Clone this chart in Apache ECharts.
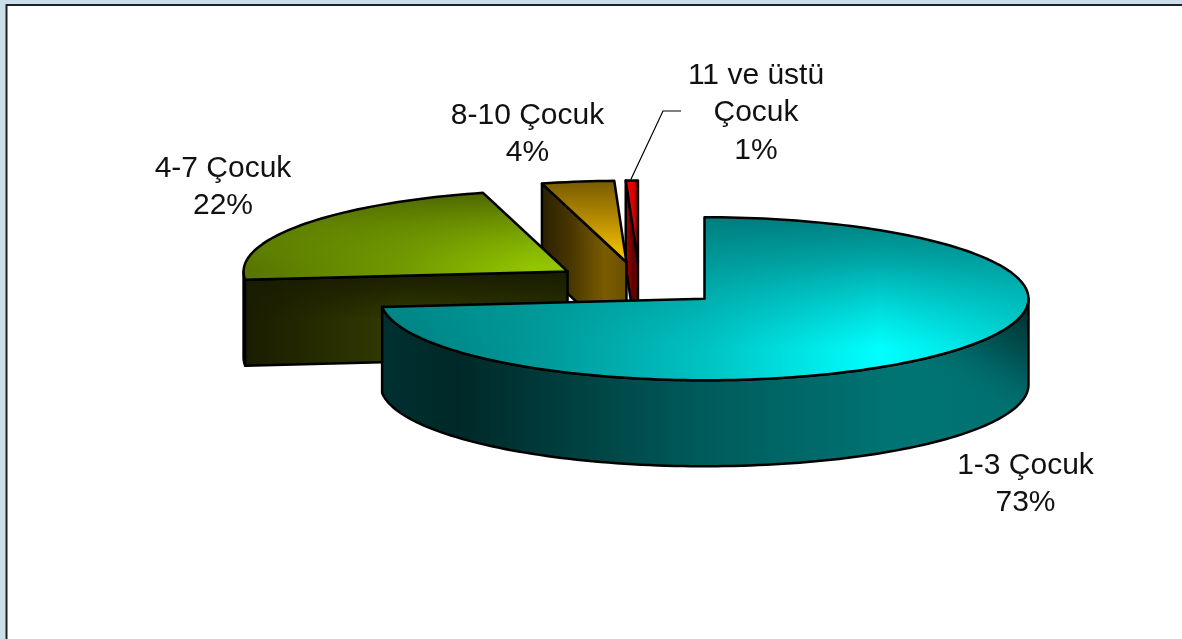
<!DOCTYPE html>
<html>
<head>
<meta charset="utf-8">
<style>html,body{margin:0;padding:0;background:#fff}#chart{width:1182px;height:639px}</style>
<script src="https://cdn.jsdelivr.net/npm/echarts@6/dist/echarts.min.js"></script>
</head>
<body>
<div id="chart"></div>
<script>
// ---- data ----
const categories = ['1-3 Çocuk', '4-7 Çocuk', '8-10 Çocuk', '11 ve üstü\nÇocuk'];
const shares = [73.4, 22.4, 3.6, 0.6];

// ---- pie geometry (a squashed, exploded 3D pie) ----
const PIE = {cx: 639.6, cy: 284, rx: 324, ry: 81.5, depth: 86, explode: 0.27};
const labelAnchors = [[1025.5, 484], [223, 187], [527.5, 134], [756, 113]];
const FONT = 'Liberation Sans';

const G = echarts.graphic.LinearGradient;
const hGrad = (x0, x1, stops) => new G(x0, 0, x1, 0, stops.map(c => ({offset: c[0], color: c[1]})), true);
const vGrad = (y0, y1, stops) => new G(0, y0, 0, y1, stops.map(c => ({offset: c[0], color: c[1]})), true);

// one paint stack (base + overlays) for each face of each slice
const sliceStyles = [
  {
    top: [hGrad(381, 1029, [[0, '#007c7c'], [0.25, '#009a9a'], [0.5, '#00c2c2'], [0.77, '#00ffff'], [1, '#00d2d2']]),
          vGrad(217, 348, [[0, 'rgba(0,124,124,1)'], [0.35, 'rgba(0,140,140,0.75)'], [1, 'rgba(0,160,160,0)']])],
    wall: [hGrad(381, 1029, [[0, '#003030'], [0.12, '#002828'], [0.5, '#005c5c'], [0.8, '#007474'], [1, '#007070']]),
           new G(1032, 300, 975, 395, [{offset: 0, color: 'rgba(0,36,36,1)'}, {offset: 0.55, color: 'rgba(0,60,60,0.5)'}, {offset: 1, color: 'rgba(0,100,100,0)'}], true)],
    cut: ['#003434']
  },
  {
    top: [hGrad(243, 567, [[0, '#567400'], [0.5, '#729a00'], [0.9, '#94c600'], [1, '#94c600']]),
          vGrad(193, 268, [[0, 'rgba(76,100,0,1)'], [0.45, 'rgba(96,128,0,0.6)'], [1, 'rgba(110,150,0,0)']])],
    wall: ['#1a1d00'],
    cut: [hGrad(243, 567, [[0, '#1a1c00'], [0.5, '#343c00'], [1, '#2c3200']]),
          vGrad(272, 320, [[0, 'rgba(24,28,0,1)'], [1, 'rgba(24,28,0,0)']])]
  },
  {
    top: [vGrad(182, 262, [[0, '#7a5c00'], [0.5, '#bb8f00'], [1, '#ffcc00']])],
    wall: ['#2a2000'],
    cut: [hGrad(542, 626, [[0, '#2a2000'], [0.35, '#493700'], [0.75, '#7a5c00'], [1, '#6a5000']])]
  },
  {
    top: [hGrad(627, 639, [[0, '#ff0000'], [0.6, '#d00000'], [1, '#700000']])],
    wall: ['#500000'],
    cut: [hGrad(627, 639, [[0, '#a00000'], [0.5, '#5c0000'], [1, '#7a0000']])]
  }
];

// ---- cumulative angles from the values ----
const total = shares.reduce((a, b) => a + b, 0);
let running = 0;
const spans = shares.map(v => {
  const s = running / total * 360;
  running += v;
  return [s, running / total * 360];
});
const rad = d => d * Math.PI / 180;

function renderSlice(params, api) {
  const i = params.dataIndex;
  const [t0, t1] = spans[i];
  const mid = rad((t0 + t1) / 2);
  const cx = PIE.cx + PIE.explode * PIE.rx * Math.sin(mid);
  const cy = PIE.cy - PIE.explode * PIE.ry * Math.cos(mid);
  const rim = (t, dz) => [cx + PIE.rx * Math.sin(rad(t)), cy - PIE.ry * Math.cos(rad(t)) + (dz || 0)];
  const arc = (a, b, dz) => {
    const n = Math.max(2, Math.ceil(Math.abs(b - a) / 1.5));
    const pts = [];
    for (let k = 0; k <= n; k++) pts.push(rim(a + (b - a) * k / n, dz));
    return pts;
  };
  const base = (3 - i) * 20 + 1; // slices nearer the viewer paint later
  let z = base;
  const children = [];
  const face = (points, fills) => {
    fills.forEach(f => children.push({type: 'polygon', shape: {points}, style: {fill: f, stroke: null}, z2: z++}));
    children.push({type: 'polygon', shape: {points}, style: {fill: 'none', stroke: '#000', lineWidth: 2.5, lineJoin: 'round'}, z2: z++});
  };
  const st = sliceStyles[i];
  // outer wall: front half of the rim only
  const a = Math.max(t0, 90), b = Math.min(t1, 270);
  if (b > a) face(arc(a, b).concat(arc(b, a, PIE.depth)), st.wall);
  // radial cut wall that faces the viewer
  if (Math.sin(rad(t0)) < -1e-6) {
    face([[cx, cy], rim(t0), rim(t0, PIE.depth), [cx, cy + PIE.depth]], st.cut);
  }
  // top surface
  face([[cx, cy]].concat(arc(t0, t1)), st.top);

  // data label
  const pct = Math.round(api.value(0) / total * 100) + '%';
  children.push({
    type: 'text', z2: 500,
    style: {
      text: categories[i] + '\n' + pct,
      x: labelAnchors[i][0], y: labelAnchors[i][1],
      align: 'center', verticalAlign: 'middle',
      fontFamily: FONT, fontSize: 30, lineHeight: 37.5, fill: '#111'
    }
  });
  // leader line for the thin slice
  if (i === 3) {
    const s = rim((t0 + t1) / 2);
    const L = labelAnchors[i];
    children.push({
      type: 'polyline', z2: 499,
      shape: {points: [[s[0] - 1, s[1] - 1], [L[0] - 93, L[1] - 2], [L[0] - 75, L[1] - 2]]},
      style: {fill: 'none', stroke: '#000', lineWidth: 1.2}
    });
  }
  return {type: 'group', children};
}

const chart = echarts.init(document.getElementById('chart'), null, {renderer: 'canvas'});
chart.setOption({
  animation: false,
  backgroundColor: '#cbdfea',
  graphic: [{
    type: 'rect', z: -1, silent: true,
    shape: {x: 6.5, y: 5, width: 1300, height: 800},
    style: {fill: '#fff', stroke: '#1c2226', lineWidth: 2}
  }],
  series: [{
    type: 'custom',
    coordinateSystem: 'none',
    silent: true,
    renderItem: renderSlice,
    data: shares
  }]
});
</script>
</body>
</html>
